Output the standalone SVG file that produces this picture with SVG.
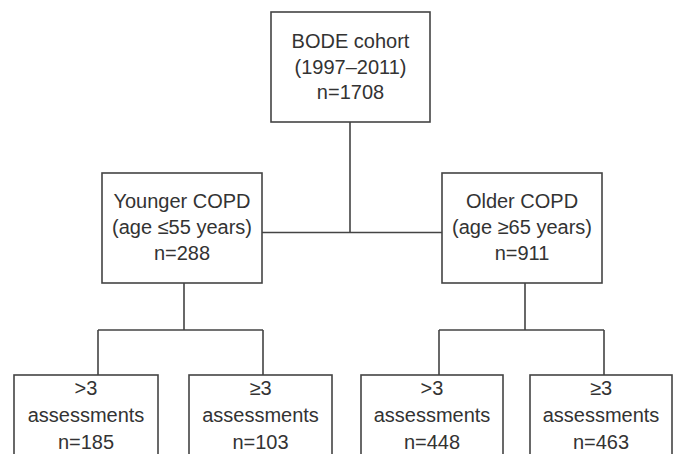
<svg xmlns="http://www.w3.org/2000/svg" width="676" height="454" viewBox="0 0 676 454">
<style>
.box{fill:#fff;stroke:#444;stroke-width:1.6}
.ln{fill:none;stroke:#444;stroke-width:1.6}
text{font-family:"Liberation Sans",Arial,sans-serif;font-size:20px;fill:#333;text-anchor:middle}
</style>
<rect width="676" height="454" fill="#fff"/>
<g id="connectors">
<path class="ln" d="M350,122 V232.5 M262,232.5 H442"/>
<path class="ln" d="M184,283 V330 M98,330 H263 M98,330 V375 M263,330 V375"/>
<path class="ln" d="M525,283 V330 M439,330 H604 M439,330 V375 M604,330 V375"/>
</g>
<g id="bode">
<rect class="box" x="271" y="12" width="159" height="110"/>
<text x="350.5" y="48">BODE cohort</text>
<text x="350.5" y="73.5">(1997–2011)</text>
<text x="350.5" y="99">n=1708</text>
</g>
<g id="younger">
<rect class="box" x="102" y="173" width="160" height="110"/>
<text x="182" y="207.5">Younger COPD</text>
<text x="182" y="233.5">(age ≤55 years)</text>
<text x="182" y="260">n=288</text>
</g>
<g id="older">
<rect class="box" x="442" y="173" width="160" height="110"/>
<text x="522" y="207.5">Older COPD</text>
<text x="522" y="233.5">(age ≥65 years)</text>
<text x="522" y="260">n=911</text>
</g>
<g id="y-gt3">
<rect class="box" x="14" y="375" width="144" height="90"/>
<text x="86" y="395">&gt;3</text>
<text x="86" y="422">assessments</text>
<text x="86" y="449">n=185</text>
</g>
<g id="y-ge3">
<rect class="box" x="189" y="375" width="143" height="90"/>
<text x="260.5" y="395">≥3</text>
<text x="260.5" y="422">assessments</text>
<text x="260.5" y="449">n=103</text>
</g>
<g id="o-gt3">
<rect class="box" x="361" y="375" width="142" height="90"/>
<text x="432" y="395">&gt;3</text>
<text x="432" y="422">assessments</text>
<text x="432" y="449">n=448</text>
</g>
<g id="o-ge3">
<rect class="box" x="530" y="375" width="142" height="90"/>
<text x="601" y="395">≥3</text>
<text x="601" y="422">assessments</text>
<text x="601" y="449">n=463</text>
</g>
</svg>
